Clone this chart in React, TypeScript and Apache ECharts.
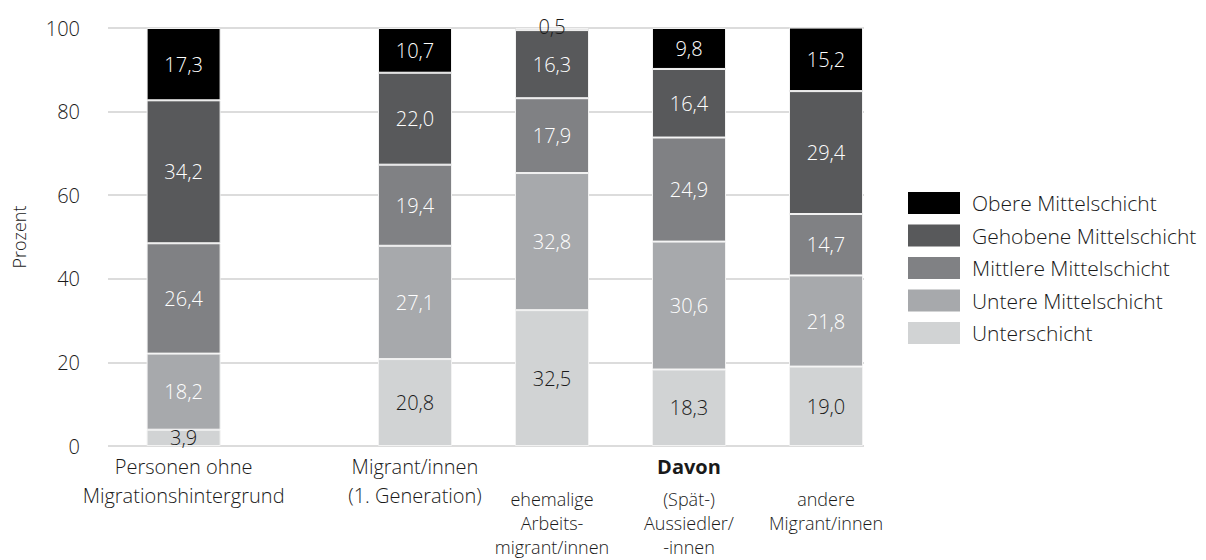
import React, { useEffect, useRef } from "react";
import * as echarts from "echarts";

// Categories (display text with line breaks as in the chart)
const firstCategory = "Personen ohne\nMigrationshintergrund";
const migrantCategories = [
  "Migrant/innen\n(1. Generation)",
  "ehemalige\nArbeits-\nmigrant/innen",
  "(Spät-)\nAussiedler/\n-innen",
  "andere\nMigrant/innen",
];
const groupHeading = "Davon";
const groupHeadingIndex = 2; // within migrantCategories

const seriesNames = [
  "Unterschicht",
  "Untere Mittelschicht",
  "Mittlere Mittelschicht",
  "Gehobene Mittelschicht",
  "Obere Mittelschicht",
];
const legendOrder = [
  "Obere Mittelschicht",
  "Gehobene Mittelschicht",
  "Mittlere Mittelschicht",
  "Untere Mittelschicht",
  "Unterschicht",
];

// values: [Personen ohne MH, Migrant/innen 1. Gen, ehem. Arbeitsmigr., (Spät-)Aussiedler, andere]
const unterschicht = [3.9, 20.8, 32.5, 18.3, 19.0];
const untereMittelschicht = [18.2, 27.1, 32.8, 30.6, 21.8];
const mittlereMittelschicht = [26.4, 19.4, 17.9, 24.9, 14.7];
const gehobeneMittelschicht = [34.2, 22.0, 16.3, 16.4, 29.4];
const obereMittelschicht = [17.3, 10.7, 0.5, 9.8, 15.2];

const yTicks = { min: 0, max: 100, interval: 20 };
const yAxisName = "Prozent";

const colors = ["#d1d3d4", "#a7a9ac", "#808184", "#58595b", "#000000"];
const labelColors = ["#1a1a1a", "#ffffff", "#ffffff", "#ffffff", "#ffffff"];

const FONT = "Open Sans";
const WEIGHT = 300;
const FS = 20;

export default function App() {
  const ref = useRef<HTMLDivElement>(null);
  useEffect(() => {
    if (!ref.current) return;
    const chart = echarts.init(ref.current, null, { renderer: "svg" });
    const allValues = [
      unterschicht,
      untereMittelschicht,
      mittlereMittelschicht,
      gehobeneMittelschicht,
      obereMittelschicht,
    ];
    const fmt = (p: any) => {
      const v = typeof p.value === "number" ? p.value : p.value?.value ?? p.value;
      return Number(v).toFixed(1).replace(".", ",");
    };
    const series: any[] = [];
    allValues.forEach((vals, si) => {
      const common = {
        type: "bar",
        name: seriesNames[si],
        barWidth: 74,
        itemStyle: { color: colors[si], borderColor: "#f2f2f2", borderWidth: 1 },
        label: {
          show: true,
          position: "inside",
          color: labelColors[si],
          fontFamily: FONT,
          fontWeight: WEIGHT,
          fontSize: FS,
          formatter: fmt,
        },
      };
      series.push({
        ...common,
        stack: "a",
        xAxisIndex: 0,
        yAxisIndex: 0,
        data: [vals[0]],
      });
      series.push({
        ...common,
        stack: "b",
        xAxisIndex: 1,
        yAxisIndex: 1,
        data: vals.slice(1).map((v) =>
          v < 1
            ? { value: v, label: { position: "top", color: "#1a1a1a", distance: -8 } }
            : v
        ),
      });
    });

    const base = { fontFamily: FONT, fontSize: FS, fontWeight: WEIGHT, color: "#1a1a1a" };
    const rich = {
      a: { ...base, lineHeight: 29 },
      b: { ...base, fontWeight: "bold", lineHeight: 35, height: 29, verticalAlign: "top" },
      h: { ...base, lineHeight: 35, height: 29, verticalAlign: "top" },
      c: { ...base, fontSize: 18, lineHeight: 24 },
    };

    chart.setOption({
      animation: false,
      textStyle: { fontFamily: FONT },
      grid: [
        { left: 108, right: 342, top: 28, bottom: 114 },
        { left: 346.5, right: 311.5, top: 28, bottom: 114 },
      ],
      legend: {
        orient: "vertical",
        left: 908,
        top: 192,
        padding: 0,
        itemWidth: 52,
        itemHeight: 22,
        itemGap: 10.5,
        data: legendOrder,
        icon: "rect",
        itemStyle: { borderWidth: 0 },
        textStyle: { ...base, fontSize: 21, padding: [0, 0, 0, 7] },
      },
      xAxis: [
        {
          type: "category",
          gridIndex: 0,
          data: [firstCategory, "", "", "", ""],
          axisLine: { show: false },
          axisTick: { show: false },
          axisLabel: {
            interval: 0,
            margin: 6,
            formatter: (v: string) =>
              v ? v.split("\n").map((l) => `{a|${l}}`).join("\n") : "",
            rich,
          },
        },
        {
          type: "category",
          gridIndex: 1,
          data: migrantCategories,
          axisLine: { show: false },
          axisTick: { show: false },
          axisLabel: {
            interval: 0,
            margin: 6,
            formatter: (v: string, i: number) => {
              const lines = v.split("\n");
              if (i === 0) return lines.map((l) => `{a|${l}}`).join("\n");
              const head = i === groupHeadingIndex ? `{b|${groupHeading}}` : `{h| }`;
              return [head, ...lines.map((l) => `{c|${l}}`)].join("\n");
            },
            rich,
          },
        },
      ],
      yAxis: [
        {
          type: "value",
          gridIndex: 0,
          min: yTicks.min,
          max: yTicks.max,
          interval: yTicks.interval,
          name: yAxisName,
          nameLocation: "middle",
          nameGap: 80,
          nameTextStyle: { ...base, fontSize: 18 },
          axisLine: { show: false },
          axisTick: { show: false },
          axisLabel: { ...base, margin: 28 },
          splitLine: { show: true, lineStyle: { color: "#dcdcdc", width: 2 } },
        },
        {
          type: "value",
          gridIndex: 1,
          min: yTicks.min,
          max: yTicks.max,
          interval: yTicks.interval,
          show: false,
          splitLine: { show: false },
        },
      ],
      series,
    });
    return () => chart.dispose();
  }, []);
  return (
    <div
      ref={ref}
      style={{ position: "absolute", left: 0, top: 0, width: 1206, height: 560, background: "#fff" }}
    />
  );
}
